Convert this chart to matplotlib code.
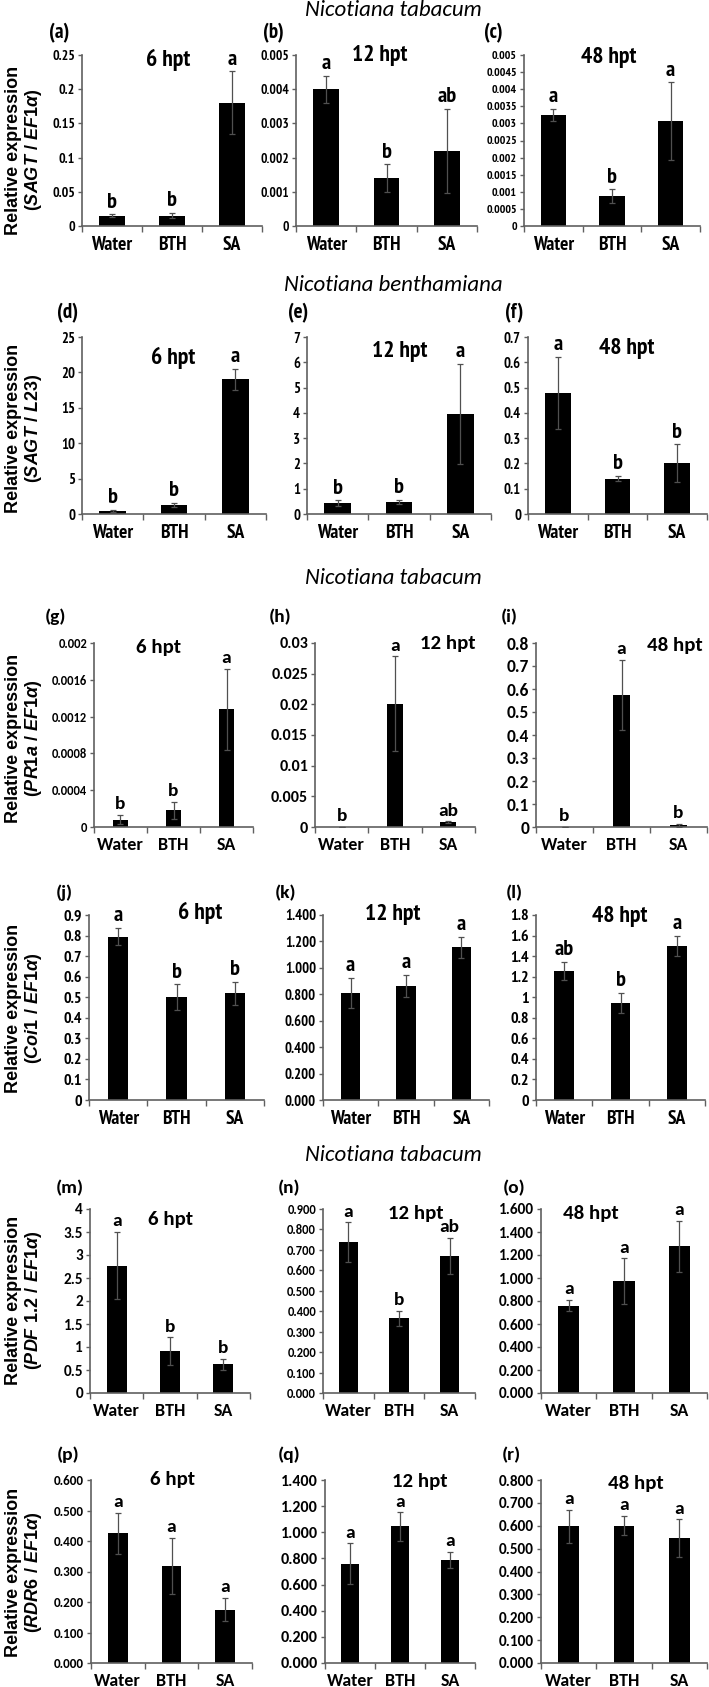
import matplotlib.pyplot as plt
import numpy as np

# treatments on every panel
groups = ["Water", "BTH", "SA"]

# row 1: SAGT / EF1a, N. tabacum
a_mean = [0.015, 0.015, 0.18]
a_err = [0.002, 0.004, 0.046]
a_sig = ["b", "b", "a"]
b_mean = [0.0040, 0.0014, 0.0022]
b_err = [0.0004, 0.0004, 0.00123]
b_sig = ["a", "b", "ab"]
c_mean = [0.00325, 0.00087, 0.00307]
c_err = [0.00017, 0.0002, 0.00113]
c_sig = ["a", "b", "a"]

# row 2: SAGT / L23, N. benthamiana
d_mean = [0.4, 1.25, 19.0]
d_err = [0.15, 0.3, 1.5]
d_sig = ["b", "b", "a"]
e_mean = [0.42, 0.47, 3.95]
e_err = [0.12, 0.08, 1.98]
e_sig = ["b", "b", "a"]
f_mean = [0.48, 0.14, 0.20]
f_err = [0.142, 0.011, 0.075]
f_sig = ["a", "b", "b"]

# row 3: PR1a / EF1a
g_mean = [0.00008, 0.00018, 0.00128]
g_err = [0.00005, 0.00009, 0.00044]
g_sig = ["b", "b", "a"]
h_mean = [0.0, 0.0201, 0.0008]
h_err = [0.0, 0.0077, 0.0001]
h_sig = ["b", "a", "ab"]
i_mean = [0.0, 0.575, 0.008]
i_err = [0.0, 0.152, 0.007]
i_sig = ["b", "a", "b"]

# row 4: Coi1 / EF1a
j_mean = [0.795, 0.50, 0.52]
j_err = [0.042, 0.062, 0.056]
j_sig = ["a", "b", "b"]
k_mean = [0.81, 0.865, 1.155]
k_err = [0.113, 0.082, 0.082]
k_sig = ["a", "a", "a"]
l_mean = [1.255, 0.945, 1.50]
l_err = [0.087, 0.097, 0.10]
l_sig = ["ab", "b", "a"]

# row 5: PDF1.2 / EF1a
m_mean = [2.77, 0.91, 0.62]
m_err = [0.73, 0.30, 0.12]
m_sig = ["a", "b", "b"]
n_mean = [0.737, 0.365, 0.67]
n_err = [0.097, 0.036, 0.09]
n_sig = ["a", "b", "ab"]
o_mean = [0.76, 0.97, 1.275]
o_err = [0.047, 0.20, 0.225]
o_sig = ["a", "a", "a"]

# row 6: RDR6 / EF1a
p_mean = [0.425, 0.318, 0.175]
p_err = [0.068, 0.092, 0.038]
p_sig = ["a", "a", "a"]
q_mean = [0.76, 1.045, 0.79]
q_err = [0.155, 0.108, 0.063]
q_sig = ["a", "a", "a"]
r_mean = [0.597, 0.60, 0.545]
r_err = [0.072, 0.042, 0.083]
r_sig = ["a", "a", "a"]

# y axis: max, step, decimals (None = Excel "general")
a_y = (0.25, 0.05, None); b_y = (0.005, 0.001, None); c_y = (0.005, 0.0005, None)
d_y = (25, 5, None); e_y = (7, 1, None); f_y = (0.7, 0.1, None)
g_y = (0.002, 0.0004, None); h_y = (0.03, 0.005, None); i_y = (0.8, 0.1, None)
j_y = (0.9, 0.1, None); k_y = (1.4, 0.2, 3); l_y = (1.8, 0.2, None)
m_y = (4, 0.5, None); n_y = (0.9, 0.1, 3); o_y = (1.6, 0.2, 3)
p_y = (0.6, 0.1, 3); q_y = (1.4, 0.2, 3); r_y = (0.8, 0.1, 3)

hpt = ["6 hpt", "12 hpt", "48 hpt"]
row_genes = ["SAGT\\ /\\ EF1\u03b1", "SAGT\\ /\\ L23", "PR1a\\ /\\ EF1\u03b1",
             "Coi1\\ /\\ EF1\u03b1", "PDF\\ 1.2\\ /\\ EF1\u03b1", "RDR6\\ /\\ EF1\u03b1"]

ARN = ["PT Sans Narrow", "Liberation Sans", "DejaVu Sans"]
CAL = ["Carlito", "Liberation Sans", "DejaVu Sans"]
row_font = [ARN, ARN, CAL, ARN, CAL, CAL]
row_label_font = [ARN, ARN, CAL, CAL, CAL, CAL]

plt.rcParams["font.family"] = ARN
plt.rcParams["font.weight"] = "bold"
plt.rcParams["mathtext.fontset"] = "custom"
plt.rcParams["mathtext.it"] = "Liberation Sans:italic:bold"
plt.rcParams["mathtext.rm"] = "Liberation Sans:bold"

W, H = 709, 1687
fig = plt.figure(figsize=(W / 100, H / 100), dpi=100)

# name, data, yaxis, box (left, right, top, zero px), bar width, ytick size, hpt pos
panels = [
    ("a", a_mean, a_err, a_sig, a_y, (82, 262, 55, 226), 0.43, 10, (168, 60)),
    ("b", b_mean, b_err, b_sig, b_y, (296, 477, 55, 226), 0.43, 9.5, (380, 56)),
    ("c", c_mean, c_err, c_sig, c_y, (524, 700, 55, 226), 0.43, 8.5, (609, 58)),
    ("d", d_mean, d_err, d_sig, d_y, (82, 266, 337, 514), 0.43, 10.5, (173, 358)),
    ("e", e_mean, e_err, e_sig, e_y, (307, 491, 337, 514), 0.43, 10.5, (400, 352)),
    ("f", f_mean, f_err, f_sig, f_y, (528, 707, 337, 514), 0.43, 10.5, (627, 349)),
    ("g", g_mean, g_err, g_sig, g_y, (94, 253, 643, 827), 0.30, 9, (159, 647)),
    ("h", h_mean, h_err, h_sig, h_y, (315, 475, 643, 827), 0.30, 11.5, (448, 643)),
    ("i", i_mean, i_err, i_sig, i_y, (536, 707, 643, 827), 0.30, 12.5, (675, 645)),
    ("j", j_mean, j_err, j_sig, j_y, (89, 264, 915, 1100), 0.35, 11.5, (200, 913)),
    ("k", k_mean, k_err, k_sig, k_y, (323, 489, 915, 1100), 0.35, 10.5, (393, 915)),
    ("l", l_mean, l_err, l_sig, l_y, (536, 705, 915, 1100), 0.35, 11.5, (620, 917)),
    ("m", m_mean, m_err, m_sig, m_y, (90, 250, 1209, 1393), 0.38, 11, (170, 1220)),
    ("n", n_mean, n_err, n_sig, n_y, (323, 475, 1209, 1393), 0.38, 9, (416, 1213)),
    ("o", o_mean, o_err, o_sig, o_y, (541, 707, 1209, 1393), 0.38, 11, (591, 1213)),
    ("p", p_mean, p_err, p_sig, p_y, (91, 252, 1480, 1663), 0.37, 9.5, (173, 1480)),
    ("q", q_mean, q_err, q_sig, q_y, (325, 475, 1480, 1663), 0.37, 11.5, (420, 1482)),
    ("r", r_mean, r_err, r_sig, r_y, (541, 707, 1480, 1663), 0.37, 11, (636, 1483)),
]

label_pos = {"a": (59, 33), "b": (273, 33), "c": (493, 33),
             "d": (68, 313), "e": (298, 313), "f": (514, 313),
             "g": (56, 617), "h": (280, 617), "i": (509, 617),
             "j": (64, 893), "k": (286, 893), "l": (514, 893),
             "m": (70, 1188), "n": (289, 1188), "o": (514, 1188),
             "p": (68, 1455), "q": (289, 1455), "r": (511, 1455)}

AXC = "#606060"

def fmt(v, dec):
    if dec is None:
        return f"{round(v, 6):g}"
    return f"{v:.{dec}f}"

x = np.arange(1, 4)
for k, (name, mean, err, sig, yax, box, bw, yfs, hp) in enumerate(panels):
    row = k // 3
    fam = row_font[row]
    narrow = fam is ARN
    l, r, top, zero = box
    ax = fig.add_axes([l / W, 1 - zero / H, (r - l) / W, (zero - top) / H])
    ax.bar(x, mean, width=bw, color="black", zorder=2)
    ax.errorbar(x, mean, yerr=err, fmt="none", ecolor="#505050", elinewidth=0.9,
                capsize=2.5, capthick=0.9, zorder=3)
    ymax, step, dec = yax
    ticks = np.arange(0, ymax + step / 2, step)
    ax.set_ylim(0, ymax)
    ax.set_yticks(ticks)
    ax.set_yticklabels([fmt(t, dec) for t in ticks], fontsize=yfs, family=fam)
    ax.set_xlim(0.5, 3.5)
    ax.set_xticks(x)
    ax.set_xticklabels(groups, fontsize=14 if narrow else 13, family=fam)
    ax.set_xticks([0.5, 1.5, 2.5, 3.5], minor=True)
    ax.tick_params(axis="x", which="major", length=0, pad=7)
    ax.tick_params(axis="x", which="minor", length=4, color=AXC, width=1)
    ax.tick_params(axis="y", length=3, color=AXC, width=1, pad=2)
    for s in ["top", "right"]:
        ax.spines[s].set_visible(False)
    for s in ["left", "bottom"]:
        ax.spines[s].set_color(AXC)
        ax.spines[s].set_linewidth(1.2)
    for xi, m, e, s in zip(x, mean, err, sig):
        ax.annotate(s, (xi, m + e), xytext=(0, 2), textcoords="offset points",
                    ha="center", va="bottom", fontsize=16 if narrow else 14,
                    family=fam, clip_on=False)
    fig.text(hp[0] / W, 1 - hp[1] / H, hpt[k % 3], ha="center", va="center",
             fontsize=17 if narrow else 15, family=fam)
    lx, ly = label_pos[name]
    fig.text(lx / W, 1 - ly / H, f"({name})", ha="center", va="center",
             fontsize=15 if row_label_font[row] is ARN else 14,
             family=row_label_font[row])

# species titles
for txt, yy in [("Nicotiana tabacum", 10), ("Nicotiana benthamiana", 285),
                ("Nicotiana tabacum", 578), ("Nicotiana tabacum", 1155)]:
    fig.text(393 / W, 1 - yy / H, txt, ha="center", va="center", fontsize=16.5,
             style="italic", weight="normal", family=CAL)

# y axis titles, one per row
row_mid = [150, 428, 738, 1008, 1300, 1572]
for g, ym in zip(row_genes, row_mid):
    fig.text(14 / W, 1 - ym / H, "Relative expression", rotation=90, ha="center",
             va="center", fontsize=13, family="Liberation Sans")
    fig.text(33 / W, 1 - ym / H, f"($\\mathit{{{g}}}$)", rotation=90, ha="center",
             va="center", fontsize=13, family="Liberation Sans")

fig.savefig("out.png", dpi=100, facecolor="white")
